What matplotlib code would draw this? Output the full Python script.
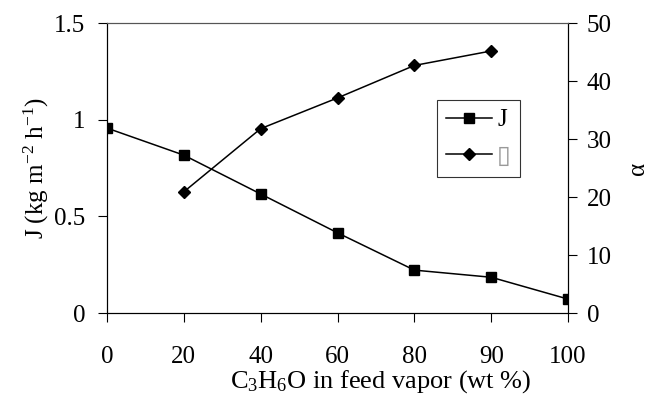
import matplotlib.pyplot as plt

plt.rcParams["font.family"] = ["Liberation Serif", "DejaVu Serif"]
plt.rcParams["mathtext.fontset"] = "custom"
plt.rcParams["mathtext.rm"] = "Liberation Serif"
plt.rcParams["mathtext.it"] = "Liberation Serif:italic"

feed_pct = ["0", "20", "40", "60", "80", "90", "100"]
flux_j = [0.957, 0.817, 0.616, 0.415, 0.222, 0.185, 0.072]
alpha_cats = ["20", "40", "60", "80", "90"]
alpha_vals = [20.9, 31.8, 37.1, 42.7, 45.2]

pos = {c: i for i, c in enumerate(feed_pct)}

fig = plt.figure(figsize=(6.56, 3.99), dpi=100)
ax = fig.add_axes([0.163, 0.2155, 0.703, 0.7265])
ax2 = ax.twinx()

ln1, = ax.plot([pos[c] for c in feed_pct], flux_j, color="black", lw=1.1,
               marker="s", markersize=6.5, label="J")
ln2, = ax2.plot([pos[c] for c in alpha_cats], alpha_vals, color="black", lw=1.1,
                marker="D", markersize=6, label="\u25af")

fs = 18
ax.set_xlim(0, len(feed_pct) - 1)
ax.set_xticks(range(len(feed_pct)))
ax.set_xticklabels(feed_pct)
ax.set_ylim(0, 1.5)
ax.set_yticks([0, 0.5, 1, 1.5])
ax.set_yticklabels(["0", "0.5", "1", "1.5"])
ax2.set_ylim(0, 50)
ax2.set_yticks([0, 10, 20, 30, 40, 50])

for a in (ax, ax2):
    a.tick_params(direction="out", length=6.5, width=0.8, colors="black",
                  labelsize=fs)
    for s in a.spines.values():
        s.set_linewidth(0.8)
ax.tick_params(axis="x", pad=17)
ax.tick_params(axis="y", pad=9)
ax2.tick_params(axis="y", pad=7)
ax.spines["top"].set_color("#555555")
ax2.spines["top"].set_color("#555555")

ax.set_xlabel("C$_3$H$_6$O in feed vapor (wt %)", fontsize=19, labelpad=0)
ax.xaxis.set_label_coords(0.594, -0.19)
ax.xaxis.label.set_va("top")
ax.set_ylabel("J (kg m$^{-2}$ h$^{-1}$)", fontsize=fs, labelpad=2)
ax2.set_ylabel("\u03b1", fontsize=fs, rotation=90, labelpad=11)

leg = ax.legend(handles=[ln1, ln2], loc="upper left",
                bbox_to_anchor=(0.716, 0.734), borderaxespad=0,
                fontsize=fs, frameon=True, fancybox=False, edgecolor="black",
                handlelength=1.85, labelspacing=0.5, borderpad=0.35,
                handletextpad=0.2)
leg.get_frame().set_linewidth(0.8)
leg.get_texts()[1].set_family("DejaVu Sans")
leg.get_texts()[1].set_color("#999999")

fig.savefig("out.png", dpi=100)
